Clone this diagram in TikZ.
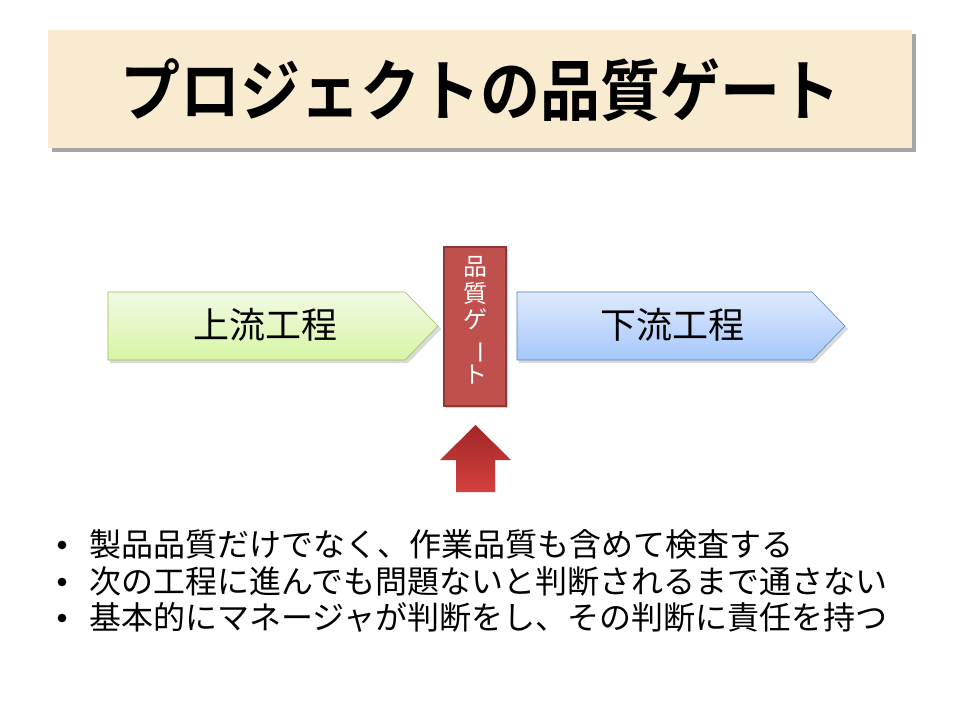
\documentclass[tikz,border=0pt]{standalone}
\usepackage{fontspec}
\setmainfont{Noto Sans CJK JP}
\newfontfamily\titlefont{Noto Sans CJK JP Bold}
\usetikzlibrary{shadows}
\definecolor{beige}{HTML}{F8EBCF}
\definecolor{gatered}{HTML}{C0504D}
\definecolor{gateedge}{HTML}{8C3836}
\definecolor{greenedge}{HTML}{9BBB59}
\definecolor{blueedge}{HTML}{4F81BD}
\tikzset{
  proc/.style={font=\fontsize{27}{27}\selectfont, inner sep=0pt},
  bullettext/.style={font=\fontsize{24}{24}\selectfont, anchor=west, inner sep=0pt},
  bulletdot/.style={circle, fill=black, inner sep=0pt, minimum size=6.5pt},
  gatechar/.style={font=\fontsize{18}{18}\selectfont, text=white, inner sep=0pt, text height=0.8em, text depth=0.2em}
}
\begin{document}
\begin{tikzpicture}[x=0.75pt,y=-0.75pt]
\useasboundingbox (0,0) rectangle (960,720);
\fill[white] (0,0) rectangle (960,720);
% title box
\fill[black!35] (52,34) rectangle (916,152);
\fill[beige] (48,30) rectangle (912,148);
\node[font=\titlefont\fontsize{50}{50}\selectfont, inner sep=0pt] (title) at (480,90) {\scalebox{0.9}[1]{プロジェクトの品質ゲート}};
% green arrow
\fill[black!15] (110,295) -- (408,295) -- (441,329) -- (408,363) -- (110,363) -- cycle;
\shade[top color={rgb,255:red,242;green,250;blue,228}, bottom color={rgb,255:red,214;green,245;blue,165}, draw=greenedge]
  (108,292) -- (405,292) -- (438,326) -- (405,360) -- (108,360) -- cycle;
\node[proc] (up) at (265,325) {上流工程};
% blue arrow
\fill[black!15] (519,295) -- (815,295) -- (848,329) -- (815,363) -- (519,363) -- cycle;
\shade[top color={rgb,255:red,222;green,234;blue,253}, bottom color={rgb,255:red,166;green,199;blue,250}, draw=blueedge]
  (517,292) -- (812,292) -- (845,326) -- (812,360) -- (517,360) -- cycle;
\node[proc] (down) at (672,325) {下流工程};
% gate
\fill[black!20] (446,249) rectangle (508,408);
\draw[fill=gatered, draw=gateedge, line width=1.2pt] (444,247) rectangle (506,406);
\node[gatechar] (g1) at (475,272) {品};
\node[gatechar] (g2) at (475,298) {質};
\node[gatechar] (g3) at (475,325) {ゲ};
\node[gatechar, rotate=-90] (g4) at (475,352) {ー};
\node[gatechar] (g5) at (475,379) {ト};
% up arrow
\shade[top color={rgb,255:red,160;green,40;blue,38}, bottom color={rgb,255:red,212;green,64;blue,62}]
  (475.5,425) -- (511,460) -- (495,460) -- (495,492) -- (456,492) -- (456,460) -- (440,460) -- cycle;
% bullets
\node[bulletdot] (b1) at (62,545) {};
\node[bullettext] (t1) at (89,544) {製品品質だけでなく、作業品質も含めて検査する};
\node[bulletdot] (b2) at (62,582) {};
\node[bullettext] (t2) at (89,581) {次の工程に進んでも問題ないと判断されるまで通さない};
\node[bulletdot] (b3) at (62,618) {};
\node[bullettext] (t3) at (89,617) {基本的にマネージャが判断をし、その判断に責任を持つ};
\end{tikzpicture}
\end{document}
